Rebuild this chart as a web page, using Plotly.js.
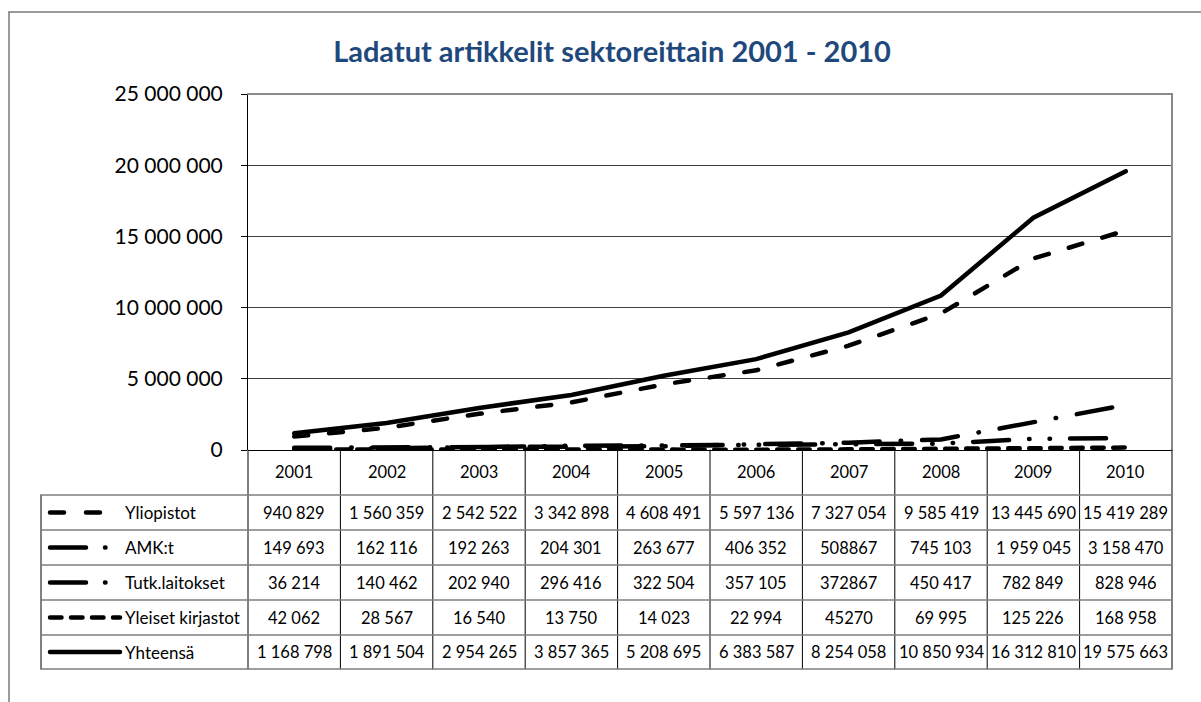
<!DOCTYPE html>
<html>
<head>
<meta charset="utf-8">
<script src="https://cdn.plot.ly/plotly-3.0.1.min.js"></script>
<style>
  html, body { margin: 0; padding: 0; background: #fff; }
  #chart { width: 1201px; height: 702px; }
  .js-line, .shapelayer path { stroke-linecap: round; }
</style>
</head>
<body>
<div id="chart"></div>
<script>
// ---- data ----
const years = ['2001','2002','2003','2004','2005','2006','2007','2008','2009','2010'];
const seriesNames = ['Yliopistot','AMK:t','Tutk.laitokset','Yleiset kirjastot','Yhteensä'];
const yliopistot = [940829,1560359,2542522,3342898,4608491,5597136,7327054,9585419,13445690,15419289];
const amk = [149693,162116,192263,204301,263677,406352,508867,745103,1959045,3158470];
const tutk = [36214,140462,202940,296416,322504,357105,372867,450417,782849,828946];
const yleiset = [42062,28567,16540,13750,14023,22994,45270,69995,125226,168958];
const yhteensa = [1168798,1891504,2954265,3857365,5208695,6383587,8254058,10850934,16312810,19575663];
// cells printed without digit grouping in the source table: [series index, year index]
const ungroupedCells = [[1,6],[2,6],[3,6]];
const yTicks = [0,5000000,10000000,15000000,20000000,25000000];
const titleText = 'Ladatut artikkelit sektoreittain 2001 - 2010';

// ---- geometry helpers (pixel -> paper) ----
const L = 248, R = 1172, T = 94, B = 450;
const px = x => (x - L) / (R - L);
const py = y => (B - y) / (B - T);
const colCenter = i => (i + 0.5) / years.length;

const allSeries = [yliopistot, amk, tutk, yleiset, yhteensa];
const lw = 4.5;
const dashes = ['14px,21px', '36px,21px,0.5px,21px', '36px,20px,0.5px,20px,0.5px,20px', '11.5px,9.5px', 'solid'];
const legendDashes = ['14px,22px', '36px,19px,0.5px,40px', '36px,19px,0.5px,40px', '11.5px,9.5px', 'solid'];

function fmt(v, grouped) {
  const s = String(v);
  if (!grouped) return s;
  return s.replace(/\B(?=(\d{3})+(?!\d))/g, ' ');
}

const drawOrder = [3, 2, 1, 0, 4];
const traces = drawOrder.map(i => ({
  type: 'scatter', mode: 'lines', x: years, y: allSeries[i], name: seriesNames[i],
  showlegend: false, hoverinfo: 'skip',
  line: { color: '#000', width: lw, dash: dashes[i] }
}));

const rowLines = [495, 530, 565, 600, 635, 669];
const shapes = [];
const annotations = [];
const labelFont = { family: 'Lato, sans-serif', size: 17, color: '#000' };
const cellFont = { family: 'Lato, sans-serif', size: 16.5, color: '#000' };

// outer frame (top and left only visible)
shapes.push({ type: 'line', xref: 'paper', yref: 'paper', x0: px(9), x1: px(1210), y0: py(12), y1: py(12), line: { color: '#7a7a7a', width: 1.5 } });
shapes.push({ type: 'line', xref: 'paper', yref: 'paper', x0: px(9), x1: px(9), y0: py(12), y1: py(710), line: { color: '#7a7a7a', width: 1.5 } });
// plot area border (top + right gray)
shapes.push({ type: 'line', xref: 'paper', yref: 'paper', x0: 0, x1: 1, y0: 1, y1: 1, line: { color: '#8a8a8a', width: 2 } });
shapes.push({ type: 'line', xref: 'paper', yref: 'paper', x0: 1, x1: 1, y0: 1, y1: 0, line: { color: '#8a8a8a', width: 2 } });

// table vertical lines at column boundaries
for (let i = 0; i <= years.length; i++) {
  shapes.push({ type: 'line', xref: 'paper', yref: 'paper', x0: i / years.length, x1: i / years.length, y0: 0, y1: py(669), line: { color: '#000', width: 1 } });
}
// left border of legend column
shapes.push({ type: 'line', xref: 'paper', yref: 'paper', x0: px(41), x1: px(41), y0: py(495), y1: py(669), line: { color: '#000', width: 1 } });
// horizontal lines
rowLines.forEach(y => {
  shapes.push({ type: 'line', xref: 'paper', yref: 'paper', x0: px(41), x1: 1, y0: py(y), y1: py(y), line: { color: '#7f7f7f', width: 1.5 } });
});

// header (years)
years.forEach((yr, i) => {
  annotations.push({ xref: 'paper', yref: 'paper', x: colCenter(i), y: py(472), text: yr, showarrow: false, xanchor: 'center', yanchor: 'middle', font: cellFont });
});

// data rows
seriesNames.forEach((name, si) => {
  const yc = (rowLines[si] + rowLines[si + 1]) / 2;
  // legend key
  shapes.push({ type: 'line', xref: 'paper', yref: 'paper', x0: px(50), x1: px(120), y0: py(yc), y1: py(yc), line: { color: '#000', width: lw, dash: legendDashes[si] } });
  annotations.push({ xref: 'paper', yref: 'paper', x: px(123), y: py(yc), text: name, showarrow: false, xanchor: 'left', yanchor: 'middle', font: labelFont });
  allSeries[si].forEach((v, yi) => {
    const grouped = !ungroupedCells.some(c => c[0] === si && c[1] === yi);
    annotations.push({ xref: 'paper', yref: 'paper', x: colCenter(yi), y: py(yc), text: fmt(v, grouped), showarrow: false, xanchor: 'center', yanchor: 'middle', font: cellFont });
  });
});

const layout = {
  width: 1201, height: 702,
  margin: { l: L, r: 1201 - R, t: T, b: 702 - B, pad: 0 },
  paper_bgcolor: '#fff', plot_bgcolor: '#fff',
  separators: ', ',
  showlegend: false,
  title: {
    text: '<b>' + titleText + '</b>',
    font: { family: 'Lato, sans-serif', size: 29, color: '#1F497D' },
    xref: 'container', x: 612 / 1201, xanchor: 'center',
    yref: 'container', y: 1 - 52 / 702, yanchor: 'middle'
  },
  xaxis: {
    type: 'category', range: [-0.5, years.length - 0.5],
    showticklabels: false, showgrid: false, zeroline: false, showline: false, ticks: ''
  },
  yaxis: {
    range: [0, 25000000], tickvals: yTicks, tickformat: ',d',
    showgrid: true, gridcolor: '#404040', gridwidth: 1,
    zeroline: true, zerolinecolor: '#000', zerolinewidth: 1,
    showline: true, linecolor: '#000', linewidth: 1,
    ticks: 'outside', ticklen: 6, tickcolor: '#000', tickwidth: 1,
    ticklabelstandoff: 14,
    tickfont: { family: 'Lato, sans-serif', size: 21, color: '#000' }
  },
  shapes: shapes,
  annotations: annotations
};

Plotly.newPlot('chart', traces, layout, { staticPlot: true, displayModeBar: false });
</script>
</body>
</html>
